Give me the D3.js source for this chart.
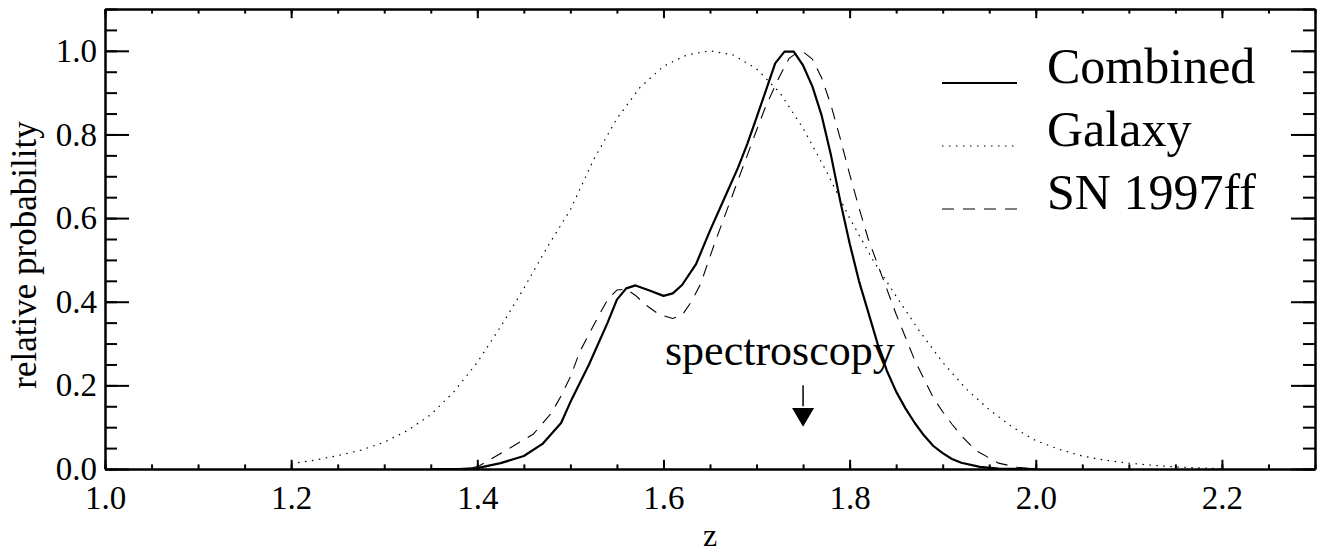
<!DOCTYPE html>
<html>
<head>
<meta charset="utf-8">
<script src="https://cdn.jsdelivr.net/npm/d3@7"></script>
<style>
  html, body { margin: 0; padding: 0; background: #fff; }
  svg { display: block; }
  text { font-family: "Liberation Serif", "Times New Roman", serif; fill: #000; }
</style>
</head>
<body>
<svg id="chart" width="1323" height="553"></svg>
<script>
// ---------- data ----------
const galaxyZ = [1.200,1.225,1.250,1.275,1.300,1.325,1.350,1.375,1.400,1.425,1.450,1.475,1.500,1.525,1.550,1.575,1.600,1.625,1.650,1.675,1.700,1.725,1.750,1.775,1.800,1.825,1.850,1.875,1.900,1.925,1.950,1.975,2.000,2.025,2.050,2.075,2.100,2.125,2.150,2.175,2.200];
const galaxyP = [0.013,0.021,0.032,0.045,0.064,0.092,0.130,0.185,0.255,0.340,0.432,0.530,0.620,0.740,0.838,0.913,0.963,0.990,1.000,0.990,0.957,0.900,0.815,0.712,0.600,0.500,0.413,0.330,0.255,0.192,0.142,0.100,0.068,0.047,0.031,0.021,0.014,0.009,0.005,0.003,0.001];

const combinedZ = [1.35,1.38,1.40,1.425,1.45,1.47,1.49,1.50,1.52,1.54,1.55,1.56,1.57,1.585,1.60,1.61,1.62,1.635,1.65,1.665,1.68,1.69,1.70,1.71,1.72,1.73,1.74,1.75,1.76,1.77,1.78,1.79,1.80,1.81,1.82,1.83,1.84,1.85,1.86,1.87,1.88,1.89,1.90,1.91,1.92,1.94,1.96,2.00];
const combinedP = [0.0,0.0,0.002,0.014,0.031,0.060,0.110,0.160,0.250,0.350,0.405,0.432,0.439,0.427,0.414,0.420,0.440,0.490,0.570,0.645,0.720,0.777,0.840,0.905,0.970,0.998,0.998,0.965,0.915,0.845,0.750,0.640,0.540,0.450,0.375,0.300,0.235,0.185,0.145,0.110,0.080,0.055,0.038,0.024,0.015,0.005,0.001,0.0];

const snZ = [1.35,1.38,1.40,1.425,1.46,1.48,1.49,1.50,1.51,1.53,1.54,1.55,1.56,1.57,1.58,1.595,1.61,1.62,1.63,1.64,1.655,1.67,1.685,1.70,1.71,1.725,1.735,1.745,1.75,1.76,1.77,1.78,1.79,1.80,1.81,1.82,1.83,1.84,1.85,1.86,1.87,1.88,1.89,1.90,1.91,1.92,1.935,1.96,1.98,2.00];
const snP = [0.0,0.0,0.005,0.037,0.083,0.135,0.175,0.220,0.280,0.365,0.405,0.428,0.430,0.415,0.394,0.370,0.360,0.368,0.400,0.443,0.540,0.630,0.720,0.810,0.868,0.940,0.982,0.998,0.998,0.980,0.935,0.870,0.790,0.705,0.625,0.550,0.490,0.430,0.370,0.315,0.260,0.215,0.170,0.137,0.107,0.080,0.045,0.014,0.004,0.0];

const xTickValues = [1.0,1.2,1.4,1.6,1.8,2.0,2.2];
const yTickValues = [0.0,0.2,0.4,0.6,0.8,1.0];
const legendLabels = ["Combined","Galaxy","SN 1997ff"];
const specZ = 1.75;
const specLabel = "spectroscopy";
const xLabel = "z";
const yLabel = "relative probability";

// ---------- layout ----------
const svg = d3.select("#chart");
const L = 105, R = 1315, T = 9, B = 469;
const x = d3.scaleLinear().domain([1.0, 2.3]).range([L, R]);
const y = d3.scaleLinear().domain([0, 1.1]).range([B, T]);

const xMinor = d3.range(1.0, 2.3001, 0.05).map(v => +v.toFixed(2));
const yMinor = d3.range(0.0, 1.1001, 0.05).map(v => +v.toFixed(2));
const fmt = d3.format(".1f");

function styleAxis(g) {
  g.attr("font-family", null);
  g.selectAll("path.domain").attr("stroke", "#000").attr("stroke-width", 2);
  g.selectAll(".tick line").attr("stroke", "#000").attr("stroke-width", 2);
  g.selectAll("text").attr("font-size", 33).attr("font-family", '"Liberation Serif", "Times New Roman", serif');
}

// bottom
svg.append("g").attr("transform", `translate(0,${B})`)
  .call(d3.axisBottom(x).tickValues(xMinor).tickSize(-4.6).tickSizeOuter(0).tickFormat(""))
  .call(styleAxis);
svg.append("g").attr("transform", `translate(0,${B})`)
  .call(d3.axisBottom(x).tickValues(xTickValues).tickSize(-9.2).tickSizeOuter(0).tickPadding(17).tickFormat(fmt))
  .call(styleAxis);
// top
svg.append("g").attr("transform", `translate(0,${T})`)
  .call(d3.axisTop(x).tickValues(xMinor).tickSize(-4.6).tickSizeOuter(0).tickFormat(""))
  .call(styleAxis);
svg.append("g").attr("transform", `translate(0,${T})`)
  .call(d3.axisTop(x).tickValues(xTickValues).tickSize(-9.2).tickSizeOuter(0).tickFormat(""))
  .call(styleAxis);
// left
svg.append("g").attr("transform", `translate(${L},0)`)
  .call(d3.axisLeft(y).tickValues(yMinor).tickSize(-12).tickSizeOuter(0).tickFormat(""))
  .call(styleAxis);
svg.append("g").attr("transform", `translate(${L},0)`)
  .call(d3.axisLeft(y).tickValues(yTickValues).tickSize(-24).tickSizeOuter(0).tickPadding(8).tickFormat(fmt))
  .call(styleAxis);
// right
svg.append("g").attr("transform", `translate(${R},0)`)
  .call(d3.axisRight(y).tickValues(yMinor).tickSize(-12).tickSizeOuter(0).tickFormat(""))
  .call(styleAxis);
svg.append("g").attr("transform", `translate(${R},0)`)
  .call(d3.axisRight(y).tickValues(yTickValues).tickSize(-24).tickSizeOuter(0).tickFormat(""))
  .call(styleAxis);

// ---------- curves ----------
const line = d3.line().x(d => x(d[0])).y(d => y(d[1]));
const series = [
  { z: combinedZ, p: combinedP, width: 2.2, dash: null },
  { z: galaxyZ, p: galaxyP, width: 1.2, dash: "1.5,5.5" },
  { z: snZ, p: snP, width: 1.1, dash: "12,9" }
];
svg.append("clipPath").attr("id", "plotclip")
  .append("rect").attr("x", L).attr("y", T).attr("width", R - L).attr("height", B - T);
const plotG = svg.append("g").attr("clip-path", "url(#plotclip)");
series.forEach(s => {
  plotG.append("path")
    .datum(s.z.map((z, i) => [z, s.p[i]]))
    .attr("d", line)
    .attr("fill", "none")
    .attr("stroke", "#000")
    .attr("stroke-width", s.width)
    .attr("stroke-linejoin", "round")
    .attr("stroke-dasharray", s.dash);
});

// ---------- legend ----------
const legX1 = 942, legX2 = 1017, legTextX = 1047, legY0 = 83, legDy = 63;
series.forEach((s, i) => {
  const yy = legY0 + i * legDy;
  svg.append("line")
    .attr("x1", legX1).attr("x2", legX2).attr("y1", yy).attr("y2", yy)
    .attr("stroke", "#000").attr("stroke-width", s.width)
    .attr("stroke-dasharray", s.dash);
  svg.append("text")
    .attr("x", legTextX).attr("y", yy)
    .attr("font-size", 50)
    .text(legendLabels[i]);
});

// ---------- spectroscopy arrow ----------
const ax = x(specZ);
svg.append("line")
  .attr("x1", ax).attr("x2", ax).attr("y1", y(0.2)).attr("y2", y(0.15))
  .attr("stroke", "#000").attr("stroke-width", 1.5);
svg.append("path")
  .attr("d", `M${ax - 11},${y(0.146)} L${ax + 11},${y(0.146)} L${ax},${y(0.101)} Z`)
  .attr("fill", "#000");
svg.append("text")
  .attr("x", 665).attr("y", 365)
  .attr("font-size", 44)
  .text(specLabel);

// ---------- axis titles ----------
svg.append("text")
  .attr("x", x(1.65)).attr("y", 546)
  .attr("text-anchor", "middle")
  .attr("font-size", 32)
  .text(xLabel);
svg.append("text")
  .attr("transform", `translate(36,255) rotate(-90)`)
  .attr("text-anchor", "middle")
  .attr("font-size", 35)
  .text(yLabel);
</script>
</body>
</html>
